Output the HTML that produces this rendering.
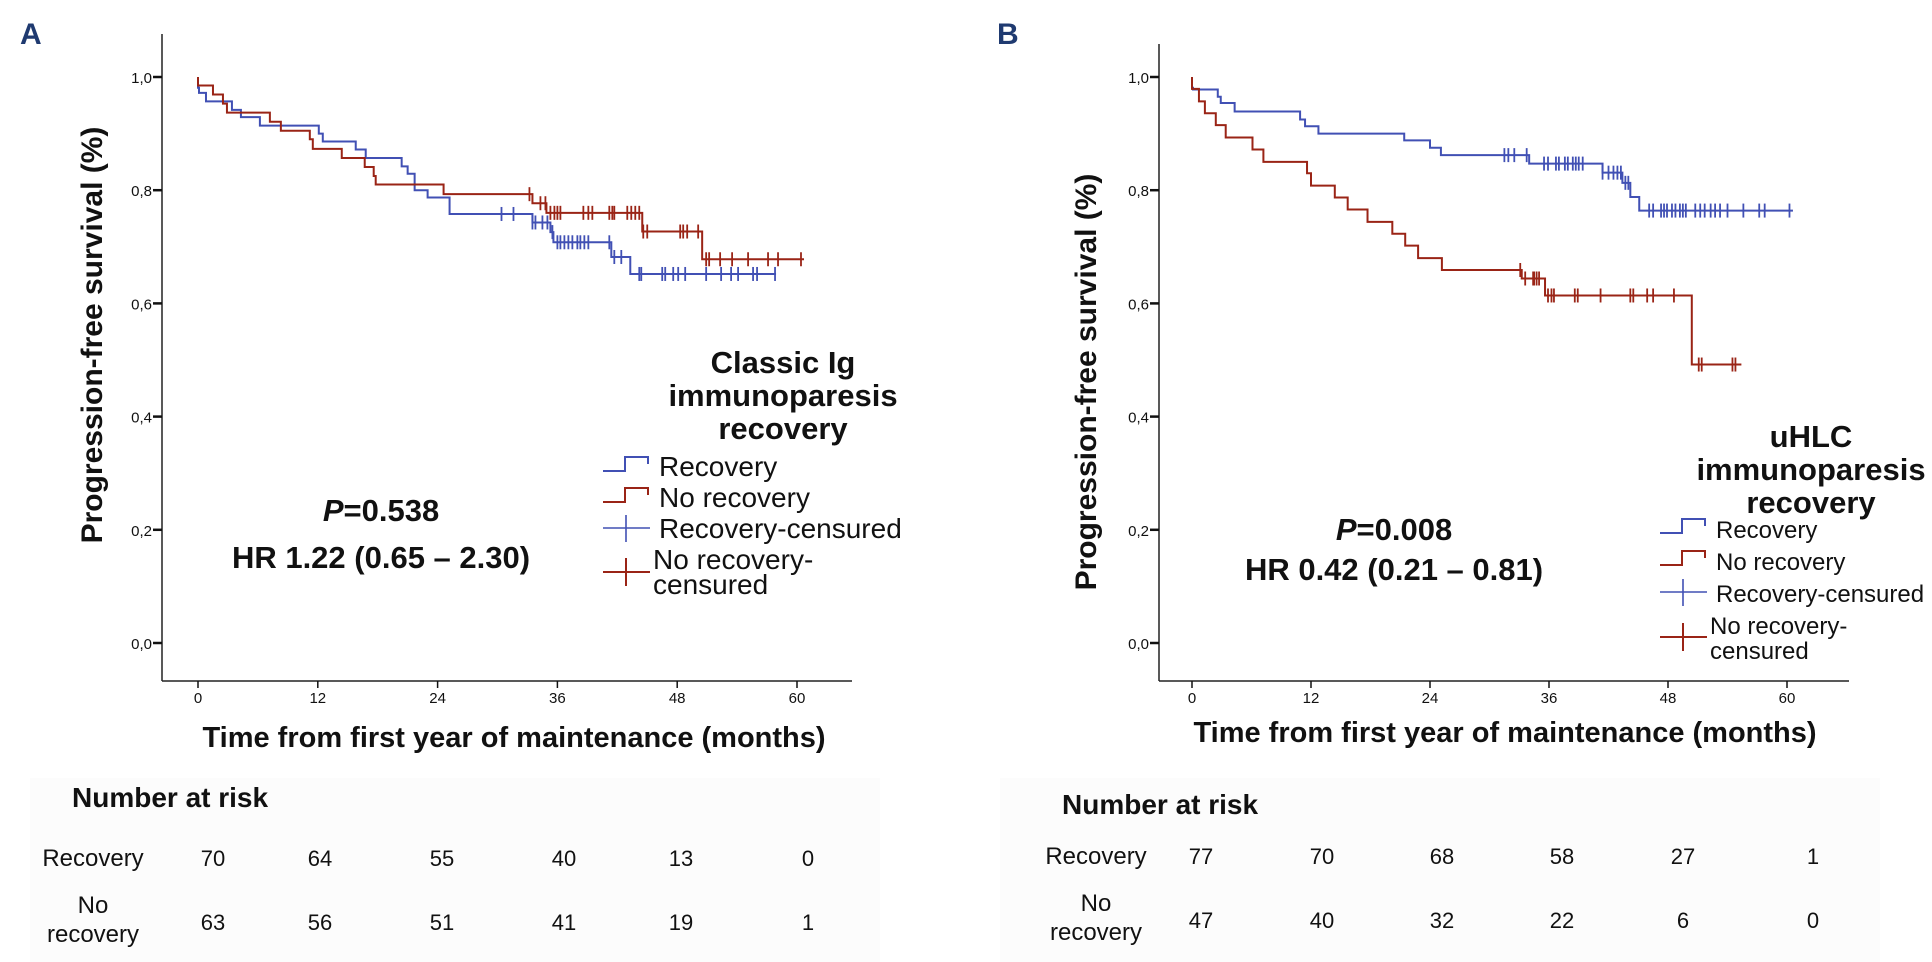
<!DOCTYPE html>
<html><head><meta charset="utf-8">
<style>
html,body{margin:0;padding:0;background:#fff;}
svg{display:block;font-family:"Liberation Sans",Arial,sans-serif;}
</style></head>
<body>
<svg id="fig" width="1932" height="962" viewBox="0 0 1932 962"></svg>
<script>
// ---------- Panel A data ----------
const aTicksX = [0, 12, 24, 36, 48, 60];
const aTicksY = [0, 0.2, 0.4, 0.6, 0.8, 1.0];
const aTickLabelsY = ["0,0", "0,2", "0,4", "0,6", "0,8", "1,0"];
const aRecTimes = [0, 0.1, 0.8, 3.4, 4.3, 6.2, 12.1, 12.5, 15.8, 16.8, 20.4, 21.0, 21.7, 23.0, 25.2, 33.5, 35.3, 35.6, 41.4, 43.3];
const aRecSurv  = [0.981, 0.972, 0.957, 0.942, 0.929, 0.914, 0.9, 0.886, 0.872, 0.857, 0.842, 0.829, 0.8, 0.787, 0.758, 0.743, 0.726, 0.708, 0.682, 0.652];
const aRecEnd = 57.9;
const aRecCens = [30.4, 31.6, 33.5, 33.8, 34.5, 35.0, 35.5, 36, 36.3, 36.7, 37.1, 37.5, 38, 38.3, 38.7, 39.1, 41.2, 41.7, 42.4, 44.2, 44.4, 46.5, 46.8, 47.6, 48.1, 48.8, 50.9, 52.4, 53.4, 54.1, 55.6, 56, 57.8];
const aNoTimes = [0, 1.5, 2.5, 2.9, 7.2, 8.3, 11.2, 11.5, 14.4, 16.7, 17.6, 17.8, 24.6, 33.5, 34.9, 44.5, 50.5];
const aNoSurv  = [0.985, 0.969, 0.953, 0.937, 0.921, 0.905, 0.89, 0.873, 0.857, 0.841, 0.825, 0.81, 0.793, 0.777, 0.76, 0.727, 0.678];
const aNoEnd = 60.7;
const aNoCens = [33.2, 34.3, 34.8, 35.3, 35.7, 36, 36.3, 38.6, 39.1, 39.5, 41.2, 41.5, 41.7, 43, 43.4, 43.8, 44.2, 44.6, 45, 48.3, 48.6, 49, 50.1, 50.9, 51.2, 52.3, 53.5, 55.1, 57.1, 58.1, 60.4];
const aRiskRec = [70, 64, 55, 40, 13, 0];
const aRiskNo  = [63, 56, 51, 41, 19, 1];

// ---------- Panel B data ----------
const bRecTimes = [0, 0.1, 2.6, 2.9, 4.3, 10.9, 11.4, 12.75, 21.4, 24.0, 25.1, 34.0, 41.4, 43.4, 44.2, 45.1];
const bRecSurv  = [0.981, 0.978, 0.965, 0.954, 0.939, 0.925, 0.913, 0.9, 0.888, 0.875, 0.862, 0.847, 0.831, 0.813, 0.788, 0.764];
const bRecEnd = 60.6;
const bRecCens = [31.5, 31.9, 32.5, 33.75, 35.5, 35.9, 36.7, 37, 37.6, 37.9, 38.4, 38.7, 39, 39.4, 41.4, 42, 42.5, 42.9, 43.25, 43.7, 44, 46.1, 46.5, 47.3, 47.6, 47.9, 48.4, 48.75, 49.2, 49.5, 49.8, 50.75, 51.25, 51.7, 52.3, 52.75, 53.25, 54, 55.6, 57.2, 57.75, 60.25];
const bNoTimes = [0, 0.7, 1.3, 2.4, 3.4, 6.1, 7.2, 11.6, 12.0, 14.4, 15.7, 17.7, 20.2, 21.5, 22.8, 25.2, 33.25, 35.6, 50.4];
const bNoSurv  = [0.979, 0.957, 0.936, 0.915, 0.893, 0.872, 0.85, 0.83, 0.808, 0.787, 0.766, 0.744, 0.723, 0.702, 0.68, 0.659, 0.644, 0.614, 0.492];
const bNoEnd = 55.4;
const bNoCens = [33.1, 33.6, 34.4, 34.5, 34.75, 35, 35.9, 36.25, 36.5, 38.6, 38.9, 41.2, 44.2, 44.5, 45.9, 46.5, 48.6, 51.1, 51.4, 54.5, 54.8];
const bRiskRec = [77, 70, 68, 58, 27, 1];
const bRiskNo  = [47, 40, 32, 22, 6, 0];

const BLUE = "#4150b4", RED = "#9a2416", NAVY = "#1f3a70";
const NS = "http://www.w3.org/2000/svg";
const svg = document.getElementById("fig");

function el(tag, attrs, parent) {
  const e = document.createElementNS(NS, tag);
  for (const k in attrs) e.setAttribute(k, attrs[k]);
  (parent || svg).appendChild(e);
  return e;
}
function txt(s, x, y, size, opts, parent) {
  const t = el("text", Object.assign({x: x, y: y, "font-size": size, fill: "#111"}, opts || {}), parent);
  t.textContent = s;
  return t;
}

function panel(cfg) {
  const g = el("g", {});
  
  
  const xs = m => cfg.x0 + (m / 60) * (cfg.x60 - cfg.x0);
  const ys = v => cfg.y0 - v * (cfg.y0 - cfg.y1);

  const lab = txt(cfg.letter, cfg.letterX, 44, 30, {"font-weight": "bold", fill: NAVY}, g);
  
  

  const ya = el("line", {x1: cfg.axX, y1: cfg.axTop, x2: cfg.axX, y2: cfg.axY, stroke: "#222", "stroke-width": 1.5}, g);
  
  
  const xa = el("line", {x1: cfg.axX, y1: cfg.axY, x2: cfg.axRight, y2: cfg.axY, stroke: "#222", "stroke-width": 1.5}, g);
  
  

  aTicksY.forEach((v, i) => {
    el("line", {x1: cfg.axX - 9, y1: ys(v), x2: cfg.axX, y2: ys(v), stroke: "#111", "stroke-width": 2.5}, g);
    const t = txt(aTickLabelsY[i], cfg.axX - 10, ys(v) + 6, 15, {"text-anchor": "end"}, g);
    
    
  });
  aTicksX.forEach(m => {
    el("line", {x1: xs(m), y1: cfg.axY, x2: xs(m), y2: cfg.axY + 7, stroke: "#111", "stroke-width": 1.5}, g);
    const t = txt(String(m), xs(m), cfg.axY + 22, 15, {"text-anchor": "middle"}, g);
    
    
  });

  const yt = txt("Progression-free survival (%)", 0, 0, 30, {"font-weight": "bold", "text-anchor": "middle",
    transform: `translate(${cfg.yTitleX},${cfg.yTitleY}) rotate(-90)`}, g);
  
  
  const xt = txt("Time from first year of maintenance (months)", cfg.xTitleX, cfg.xTitleY, 29, {"font-weight": "bold", "text-anchor": "middle"}, g);
  
  

  function curve(times, surv, end, cens, color, name) {
    let d = `M${xs(0)},${ys(1)}`;
    for (let i = 0; i < times.length; i++) {
      d += ` H${xs(times[i])} V${ys(surv[i])}`;
    }
    d += ` H${xs(end)}`;
    const p = el("path", {d: d, fill: "none", stroke: color, "stroke-width": 2}, g);
    
    
    cens.forEach(c => {
      let s = 1;
      for (let i = 0; i < times.length; i++) if (times[i] <= c) s = surv[i];
      const l = el("line", {x1: xs(c), y1: ys(s) - 7, x2: xs(c), y2: ys(s) + 7, stroke: color, "stroke-width": 1.8}, g);
      
      
    });
  }
  curve(cfg.recT, cfg.recS, cfg.recE, cfg.recC, BLUE, "recovery");
  curve(cfg.noT, cfg.noS, cfg.noE, cfg.noC, RED, "no-recovery");

  const p1 = el("text", {x: cfg.statX, y: cfg.statY, "font-size": 31, "font-weight": "bold", "text-anchor": "middle", fill: "#111"}, g);
  p1.innerHTML = `<tspan font-style="italic">P</tspan>=${cfg.p}`;
  
  
  const hr = txt(cfg.hr, cfg.statX, cfg.statY + cfg.statGap, 31, {"font-weight": "bold", "text-anchor": "middle"}, g);
  
  

  const lg = el("g", {}, g);
  
  
  cfg.legTitle.forEach((s, i) => {
    const t = txt(s, cfg.legTitleX, cfg.legTitleY + i * 33, 31, {"font-weight": "bold", "text-anchor": "middle"}, lg);
    
    
  });
  const lx = cfg.legX, ly = cfg.legY, fs = cfg.legFont, gap = cfg.legGap;
  const items = [["Recovery", BLUE, "step"], ["No recovery", RED, "step"], ["Recovery-censured", BLUE, "cens"]];
  items.forEach((it, i) => {
    const y = ly + i * gap;
    if (it[2] === "step") {
      el("path", {d: `M${lx},${y + 4} H${lx + 22} V${y - 10} H${lx + 45} V${y - 3}`, fill: "none", stroke: it[1], "stroke-width": 2}, lg);
    } else {
      el("path", {d: `M${lx},${y - 1} H${lx + 47} M${lx + 23},${y - 14} V${y + 13}`, fill: "none", stroke: it[1], "stroke-width": 1.6}, lg);
    }
    const t = txt(it[0], lx + cfg.legTextDx, y + 9, fs, {}, lg);
    
    
  });
  const y4 = ly + 3 * gap + 12;
  el("path", {d: `M${lx},${y4} H${lx + 47} M${lx + 23},${y4 - 14} V${y4 + 14}`, fill: "none", stroke: RED, "stroke-width": 2}, lg);
  const t4 = txt("No recovery-", lx + cfg.legTextDx - 6, y4 - 3, fs, {}, lg);
  
  
  txt("censured", lx + cfg.legTextDx - 6, y4 + 22, fs, {}, lg);

  const rt = el("g", {}, g);
  
  
  el("rect", {x: cfg.riskBgX, y: 778, width: cfg.riskBgW, height: 184, fill: "#fcfcfc"}, rt);
  const nt = txt("Number at risk", cfg.narX, cfg.narY, 28, {"font-weight": "bold"}, rt);
  
  
  txt("Recovery", cfg.rowLabelX, cfg.row1Y, 24, {"text-anchor": "middle"}, rt);
  txt("No", cfg.rowLabelX, cfg.row2Y - 9, 24, {"text-anchor": "middle"}, rt);
  txt("recovery", cfg.rowLabelX, cfg.row2Y + 20, 24, {"text-anchor": "middle"}, rt);
  cfg.riskRec.forEach((v, i) => {
    const t = txt(String(v), cfg.riskX[i], cfg.row1Y, 22, {"text-anchor": "middle"}, rt);
    
    
  });
  cfg.riskNo.forEach((v, i) => {
    const t = txt(String(v), cfg.riskX[i], cfg.row2Y + 8, 22, {"text-anchor": "middle"}, rt);
    
    
  });
}

panel({
  name: "panel-a", letter: "A", letterX: 20,
  x0: 198, x60: 797, y0: 643, y1: 77, axX: 162, axTop: 34, axY: 681, axRight: 852,
  yTitleX: 102, yTitleY: 335, xTitleX: 514, xTitleY: 747,
  recT: aRecTimes, recS: aRecSurv, recE: aRecEnd, recC: aRecCens,
  noT: aNoTimes, noS: aNoSurv, noE: aNoEnd, noC: aNoCens,
  p: "0.538", hr: "HR 1.22 (0.65 – 2.30)", statX: 381, statY: 521, statGap: 47,
  legTitle: ["Classic Ig", "immunoparesis", "recovery"], legTitleX: 783, legTitleY: 373,
  legX: 603, legY: 467, legFont: 28, legGap: 31, legTextDx: 56,
  riskBgX: 30, riskBgW: 850,
  narX: 72, narY: 807, rowLabelX: 93, row1Y: 866, row2Y: 922,
  riskX: [213, 320, 442, 564, 681, 808], riskRec: aRiskRec, riskNo: aRiskNo
});
panel({
  name: "panel-b", letter: "B", letterX: 997,
  x0: 1192, x60: 1787, y0: 643, y1: 77, axX: 1159, axTop: 44, axY: 681, axRight: 1849,
  yTitleX: 1096, yTitleY: 382, xTitleX: 1505, xTitleY: 742,
  recT: bRecTimes, recS: bRecSurv, recE: bRecEnd, recC: bRecCens,
  noT: bNoTimes, noS: bNoSurv, noE: bNoEnd, noC: bNoCens,
  p: "0.008", hr: "HR 0.42 (0.21 – 0.81)", statX: 1394, statY: 540, statGap: 40,
  legTitle: ["uHLC", "immunoparesis", "recovery"], legTitleX: 1811, legTitleY: 447,
  legX: 1660, legY: 529, legFont: 24, legGap: 32, legTextDx: 56,
  riskBgX: 1000, riskBgW: 880,
  narX: 1062, narY: 814, rowLabelX: 1096, row1Y: 864, row2Y: 920,
  riskX: [1201, 1322, 1442, 1562, 1683, 1813], riskRec: bRiskRec, riskNo: bRiskNo
});
</script>
</body></html>
